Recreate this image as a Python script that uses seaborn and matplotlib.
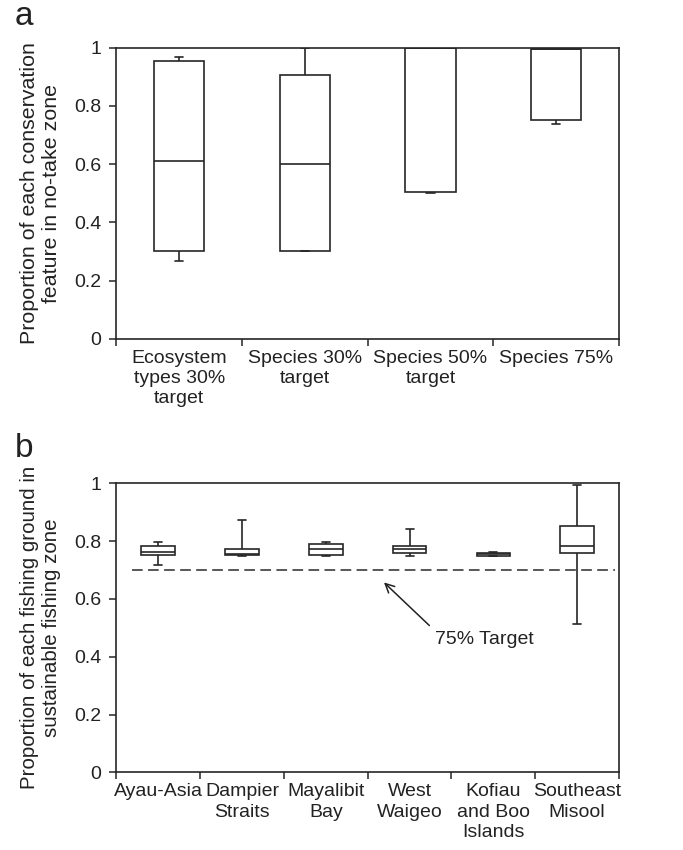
import numpy as np
import pandas as pd
import matplotlib
matplotlib.use("Agg")
import matplotlib.pyplot as plt
import seaborn as sns

# Panel a: proportion of each conservation feature inside the no-take zone
a_categories = ["Ecosystem\ntypes 30%\ntarget", "Species 30%\ntarget",
                "Species 50%\ntarget", "Species 75%"]
a_min = [0.266, 0.300, 0.500, 0.739]
a_q1 = [0.301, 0.301, 0.504, 0.750]
a_median = [0.610, 0.600, 1.000, 0.997]
a_q3 = [0.954, 0.905, 1.000, 0.997]
a_max = [0.969, 1.000, 1.000, 1.000]

# Panel b: proportion of each fishing ground inside the sustainable fishing zone
b_categories = ["Ayau-Asia", "Dampier\nStraits", "Mayalibit\nBay", "West\nWaigeo",
                "Kofiau\nand Boo\nIslands", "Southeast\nMisool"]
b_min = [0.717, 0.747, 0.747, 0.747, 0.750, 0.512]
b_q1 = [0.752, 0.752, 0.752, 0.758, 0.750, 0.758]
b_median = [0.763, 0.755, 0.774, 0.774, 0.755, 0.784]
b_q3 = [0.783, 0.774, 0.789, 0.783, 0.760, 0.853]
b_max = [0.798, 0.874, 0.798, 0.843, 0.763, 0.994]

target_level = 0.70
target_label = "75% Target"

y_ticks = [0, 0.2, 0.4, 0.6, 0.8, 1.0]
y_ticklabels = ["0", "0.2", "0.4", "0.6", "0.8", "1"]

sns.set_style("ticks")
plt.rcParams["font.family"] = ["Liberation Sans", "DejaVu Sans"]

INK = "#262626"
TXT = "#222222"
FS = 14


def five_number_frame(cats, mn, q1, med, q3, mx):
    """Five values per group: with linear percentiles their quartiles are exact."""
    rows = []
    for c, vals in zip(cats, zip(mn, q1, med, q3, mx)):
        for v in vals:
            rows.append({"group": c, "value": v})
    return pd.DataFrame(rows)


def draw_panel(ax, cats, stats, capwidth):
    df = five_number_frame(cats, *stats)
    sns.boxplot(data=df, x="group", y="value", order=cats, ax=ax,
                width=0.4, whis=(0, 100), color="white", saturation=1,
                linecolor=INK, linewidth=1.2, fliersize=0, capwidths=capwidth)
    n = len(cats)
    ax.set_xlim(-0.5, n - 0.5)
    ax.set_ylim(0, 1)
    ax.set_yticks(y_ticks)
    ax.set_yticklabels(y_ticklabels)
    ax.set_xticks(np.arange(n))
    ax.set_xticklabels(cats, fontsize=FS, linespacing=1.25, va="top")
    ax.set_xticks(np.arange(-0.5, n, 1.0), minor=True)
    ax.tick_params(axis="x", which="major", length=0, pad=8, colors=TXT)
    ax.tick_params(axis="x", which="minor", length=5, width=1.1, direction="out",
                   color=INK)
    ax.tick_params(axis="y", which="major", length=5, width=1.1, direction="out",
                   color=INK, pad=6, labelsize=FS, labelcolor=TXT)
    ax.set_xlabel("")
    for s in ax.spines.values():
        s.set_visible(True)
        s.set_color(INK)
        s.set_linewidth(1.2)


fig = plt.figure(figsize=(6.83, 8.5), dpi=100)
ax_a = fig.add_axes([0.1703, 0.6015, 0.736, 0.3424])
ax_b = fig.add_axes([0.1703, 0.0914, 0.736, 0.340])

draw_panel(ax_a, a_categories, (a_min, a_q1, a_median, a_q3, a_max), 0.065)
draw_panel(ax_b, b_categories, (b_min, b_q1, b_median, b_q3, b_max), 0.095)

ax_a.set_ylabel("Proportion of each conservation\nfeature in no-take zone",
                fontsize=15.4, color=TXT, labelpad=9, linespacing=1.25)
ax_b.set_ylabel("Proportion of each fishing ground in\nsustainable fishing zone",
                fontsize=14.8, color=TXT, labelpad=9, linespacing=1.25)

# Target line and its label in panel b
ax_b.plot([-0.31, 5.45], [target_level, target_level], color="#2a2a2a", lw=1.1,
          ls=(0, (7, 3.5)), zorder=1)
ax_b.annotate(target_label, xy=(2.695, 0.657), xytext=(3.30, 0.461),
              fontsize=FS, color=TXT, ha="left", va="center",
              arrowprops=dict(arrowstyle="->", color=TXT, lw=1.1,
                              mutation_scale=16, relpos=(0, 1),
                              shrinkA=2, shrinkB=0))

fig.text(0.022, 0.9706, "a", fontsize=24, color=TXT, va="baseline")
fig.text(0.022, 0.4624, "b", fontsize=24, color=TXT, va="baseline")

fig.savefig("out.png", dpi=100, facecolor="white")
